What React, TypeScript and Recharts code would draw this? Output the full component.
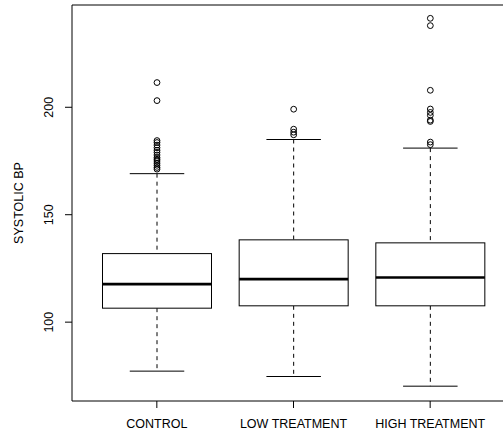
import React from 'react';
import { ComposedChart, Bar, XAxis, YAxis, ReferenceLine } from 'recharts';

// values
const categories = ['CONTROL', 'LOW TREATMENT', 'HIGH TREATMENT'];
const lowerWhisker = [77.2, 74.7, 70.2];
const q1 = [106.5, 107.6, 107.6];
const medians = [117.7, 120.0, 120.8];
const q3 = [131.9, 138.3, 136.9];
const upperWhisker = [169.1, 185.0, 181.0];
const outliers = [
  [211.5, 203.1, 184.5, 183.6, 182.4, 181.2, 180.0, 179.0, 177.8, 176.6, 175.8, 175.0, 174.0, 173.0, 172.0, 171.2],
  [199.1, 189.8, 188.4, 187.2],
  [241.4, 238.0, 207.9, 199.2, 197.6, 196.2, 194.0, 193.4, 183.8, 182.6],
];
const yTicks = [100, 150, 200];
const Y_MIN = 63.3;
const Y_MAX = 247.6;

const FONT = '"Liberation Sans", Arial, Helvetica, sans-serif';

const data = categories.map((name, i) => ({
  name,
  lo: lowerWhisker[i],
  q1: q1[i],
  med: medians[i],
  q3: q3[i],
  hi: upperWhisker[i],
  range: [lowerWhisker[i], upperWhisker[i]],
  out: outliers[i],
}));

// box, whiskers, median and outliers, placed with the bar's own y-scale
const BoxShape = (props: any) => {
  const { x, y, width, height, payload } = props;
  if (payload == null || width == null) return null;
  const top = Math.min(y, y + height);
  const h = Math.abs(height);
  const k = h / (payload.hi - payload.lo);
  const py = (v: number) => top + (payload.hi - v) * k;
  const cx = x + width / 2;
  const cap = width / 4;
  return (
    <g fill="none" stroke="#000">
      <line x1={cx} x2={cx} y1={py(payload.hi)} y2={py(payload.q3)} strokeDasharray="4 4" />
      <line x1={cx} x2={cx} y1={py(payload.q1)} y2={py(payload.lo)} strokeDasharray="4 4" />
      <line x1={cx - cap} x2={cx + cap} y1={py(payload.hi)} y2={py(payload.hi)} />
      <line x1={cx - cap} x2={cx + cap} y1={py(payload.lo)} y2={py(payload.lo)} />
      <rect x={x} y={py(payload.q3)} width={width} height={py(payload.q1) - py(payload.q3)} fill="#fff" />
      <line x1={x} x2={x + width} y1={py(payload.med)} y2={py(payload.med)} strokeWidth={2.6} />
      {payload.out.map((v: number, j: number) => (
        <circle key={j} cx={cx} cy={py(v)} r={2.9} strokeWidth={1} />
      ))}
    </g>
  );
};

const renderYTick = (props: any) => {
  const { x, y, payload } = props;
  const tx = Number(x) - 11.5;
  const ty = Number(y);
  return (
    <text
      x={tx}
      y={ty}
      transform={`rotate(-90 ${tx} ${ty})`}
      textAnchor="middle"
      fontSize={12.5}
      fontFamily={FONT}
      fill="#000"
    >
      {payload.value}
    </text>
  );
};

export default function App() {
  return (
    <div style={{ position: 'absolute', left: 0, top: 0, width: 503, height: 437, overflow: 'hidden', background: '#fff' }}>
      <ComposedChart
        width={525}
        height={437}
        data={data}
        margin={{ top: 5, right: 10, left: 0, bottom: 0 }}
        barSize={109}
      >
        <XAxis
          dataKey="name"
          height={36}
          padding={{ left: 16.5, right: 16.5 }}
          tickSize={7}
          tickMargin={11}
          axisLine={{ stroke: '#000' }}
          tickLine={{ stroke: '#000' }}
          tick={{ fill: '#000', fontSize: 12.5, fontFamily: FONT }}
          interval={0}
        />
        <YAxis
          width={72}
          type="number"
          domain={[Y_MIN, Y_MAX]}
          allowDataOverflow
          ticks={yTicks}
          tickSize={7}
          tickMargin={0}
          axisLine={{ stroke: '#000' }}
          tickLine={{ stroke: '#000' }}
          tick={renderYTick}
        />
        <ReferenceLine y={Y_MAX} stroke="#000" ifOverflow="visible" />
        <Bar dataKey="range" shape={<BoxShape />} isAnimationActive={false} fill="none" />
      </ComposedChart>
      <svg width={40} height={437} style={{ position: 'absolute', left: 0, top: 0 }}>
        <text
          x={22.5}
          y={203}
          transform="rotate(-90 22.5 203)"
          textAnchor="middle"
          fontSize={12.5}
          fontFamily={FONT}
          fill="#000"
        >
          SYSTOLIC BP
        </text>
      </svg>
    </div>
  );
}
